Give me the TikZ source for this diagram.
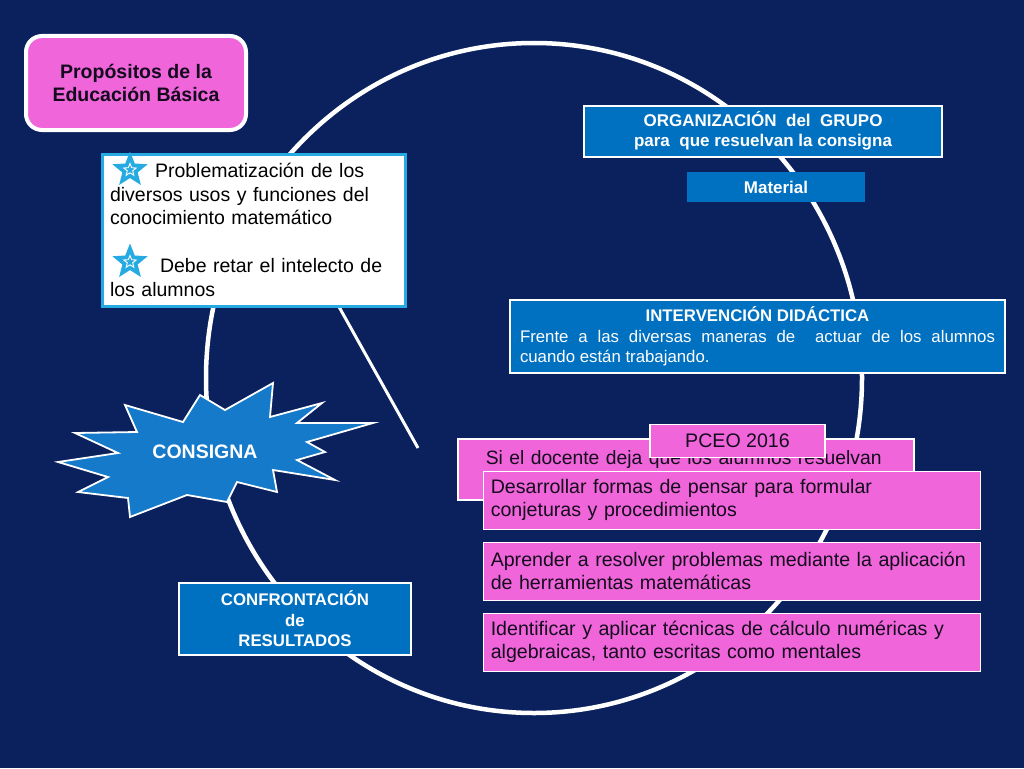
\documentclass[tikz,border=0pt]{standalone}
\usepackage{fontspec}
\setmainfont{Liberation Sans}
\usetikzlibrary{shapes.geometric}
\definecolor{bg}{RGB}{10,33,94}
\definecolor{pinkB}{RGB}{240,102,218}
\definecolor{blueB}{RGB}{0,112,192}
\definecolor{burst}{RGB}{22,122,202}
\definecolor{cyanB}{RGB}{38,170,226}
\definecolor{ink}{RGB}{20,10,30}
\begin{document}
\begin{tikzpicture}[x=1pt,y=-1pt,
  bluebox/.style={draw=white, line width=2pt, fill=blueB, text=white,
    font=\bfseries\fontsize{17}{20.5}\selectfont, align=center, inner sep=0pt},
  pinkbox/.style={draw=white, line width=1.5pt, fill=pinkB, text=ink,
    font=\fontsize{19.6}{23}\selectfont, align=left, inner sep=0pt, anchor=north west},
  bullet/.style={star, star points=5, star point ratio=2.3, fill=cyanB, minimum size=37pt, inner sep=0pt},
  bulletin/.style={star, star points=5, star point ratio=2.3, draw=white, line width=0.9pt, minimum size=13pt, inner sep=0pt},
  ring/.style={draw=white, line width=4.5pt}
]
\fill[bg] (0,0) rectangle (1024,768);
\useasboundingbox (0,0) rectangle (1024,768);

% big ring and straight line
\draw[ring] (534,378) ellipse [x radius=328pt, y radius=335pt];
\coordinate (ls) at (338,305);
\coordinate (le) at (418,448);
\draw[white, line width=3pt] (ls) -- (le);

% Propositos
\node[draw=white, line width=4pt, rounded corners=16pt, fill=pinkB, text=ink,
  minimum width=220pt, minimum height=94pt, align=center, inner sep=0pt,
  font=\bfseries\fontsize{19.5}{23.5}\selectfont] (prop) at (136,83)
  {Propósitos de la\\Educación Básica};

% white box
\node[draw=cyanB, line width=3pt, fill=white, text=black, anchor=north west,
  minimum width=303pt, minimum height=152pt, text width=287pt, inner xsep=8pt, inner ysep=0pt,
  align=left, font=\fontsize{19.5}{23.5}\selectfont] (probl) at (100.5,152.5)
  {\hspace*{45pt}Problematización de los\\diversos usos y funciones del\\conocimiento matemático\\[24.5pt]\hspace*{50pt}Debe retar el intelecto de\\los alumnos};
\node[bullet] (s1) at (130,170) {};
\node[bulletin] (s1i) at (130,170) {};
\node[bullet] (s2) at (130,262) {};
\node[bulletin] (s2i) at (130,262) {};

% Organizacion
\node[bluebox, minimum width=358pt, minimum height=51pt] (org) at (763,131)
  {ORGANIZACIÓN\ \ del\ \ GRUPO\\para\ \ que resuelvan la consigna};
\node[fill=blueB, text=white, minimum width=178pt, minimum height=30pt, inner sep=0pt,
  font=\bfseries\fontsize{17}{20}\selectfont] (mat) at (776,187) {Material};

% Intervencion
\node[bluebox, anchor=north west, minimum width=495pt, minimum height=73pt,
  text width=475pt, inner xsep=10pt, align=justify,
  font=\fontsize{16.8}{20.5}\selectfont] (inter) at (509,299)
  {{\centering\bfseries INTERVENCIÓN DIDÁCTICA\par}\noindent Frente a las diversas maneras de\ \ actuar de los alumnos\linebreak cuando están trabajando.};

% Consigna burst
\path[fill=burst, draw=white, line width=1.8pt]
  (58,462) -- (118,453) -- (75,433) -- (137,432) -- (125,405) -- (183,422)
  -- (200,395) -- (225,410) -- (273,383) -- (270,417) -- (322,403) -- (297,423)
  -- (373,423) -- (307,442) -- (325,452) -- (297,460) -- (335,480) -- (273,470)
  -- (277,492) -- (237,482) -- (227,502) -- (187,495) -- (130,517) -- (128,498)
  -- (78,492) -- (108,477) -- cycle;
\node[text=white, font=\bfseries\fontsize{19.5}{22}\selectfont] (cons) at (205,452) {CONSIGNA};

% Confrontacion
\node[bluebox, minimum width=232pt, minimum height=72pt,
  font=\bfseries\fontsize{16.8}{20.5}\selectfont] (conf) at (295,619)
  {CONFRONTACIÓN\\de\\RESULTADOS};

% pink boxes
\node[pinkbox, minimum width=456pt, text width=400pt, inner xsep=28pt,
  text height=26pt, text depth=35pt, font=\fontsize{19.3}{23}\selectfont] (si) at (457,438)
  {\mbox{Si el docente deja que los alumnos resuelvan}};
\node[pinkbox, anchor=center, align=center, minimum width=175pt, minimum height=33pt] (pceo) at (737.5,441)
  {PCEO 2016};
\node[pinkbox, minimum width=497pt, minimum height=58pt, text width=482pt, inner xsep=7.5pt] (p1) at (482.5,470.5)
  {\mbox{Desarrollar formas de pensar para formular}\\\mbox{conjeturas y procedimientos}};
\node[pinkbox, minimum width=497pt, minimum height=58pt, text width=482pt, inner xsep=7.5pt] (p2) at (482.5,541.5)
  {\mbox{Aprender a resolver problemas mediante la aplicación}\\\mbox{de herramientas matemáticas}};
\node[pinkbox, minimum width=497pt, minimum height=58pt, text width=482pt, inner xsep=7.5pt] (p3) at (482.5,612.5)
  {\mbox{Identificar y aplicar técnicas de cálculo numéricas y}\\\mbox{algebraicas, tanto escritas como mentales}};
\end{tikzpicture}
\end{document}
